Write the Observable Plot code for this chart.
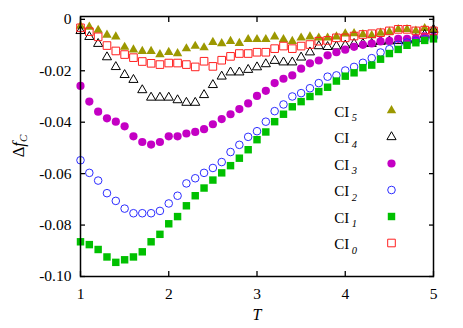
<!DOCTYPE html>
<html><head><meta charset="utf-8">
<script src="https://cdn.jsdelivr.net/npm/d3@7"></script>
<script src="https://cdn.jsdelivr.net/npm/@observablehq/plot@0.6"></script>
<style>body{margin:0;background:#fff}#chart{width:463px;height:328px}</style>
</head><body><div id="chart"></div>
<script>
const T = [1.0,1.1,1.2,1.3,1.4,1.5,1.6,1.7,1.8,1.9,2.0,2.1,2.2,2.3,2.4,2.5,2.6,2.7,2.8,2.9,3.0,3.1,3.2,3.3,3.4,3.5,3.6,3.7,3.8,3.9,4.0,4.1,4.2,4.3,4.4,4.5,4.6,4.7,4.8,4.9,5.0];
const CI5 = [-0.0026,-0.0030,-0.0042,-0.0061,-0.0068,-0.0108,-0.0118,-0.0124,-0.0124,-0.0137,
  -0.0128,-0.0133,-0.0114,-0.0104,-0.0110,-0.0089,-0.0094,-0.0085,-0.0093,-0.0078,
  -0.0078,-0.0078,-0.0068,-0.0078,-0.0085,-0.0072,-0.0068,-0.0072,-0.0072,-0.0068,
  -0.0056,-0.0055,-0.0059,-0.0063,-0.0053,-0.0049,-0.0039,-0.0039,-0.0045,-0.0035,-0.0042];
const CI4 = [-0.0045,-0.0068,-0.0095,-0.0147,-0.0185,-0.0216,-0.0235,-0.0275,-0.0304,-0.0304,
  -0.0304,-0.0314,-0.0324,-0.0324,-0.0294,-0.0255,-0.0222,-0.0206,-0.0206,-0.0196,
  -0.0186,-0.0174,-0.0161,-0.0167,-0.0167,-0.0148,-0.0128,-0.0104,-0.0107,-0.0105,
  -0.0101,-0.0095,-0.0095,-0.0095,-0.0087,-0.0085,-0.0084,-0.0082,-0.0076,-0.0060,-0.0040];
const CI3 = [-0.0259,-0.0320,-0.0359,-0.0385,-0.0398,-0.0416,-0.0455,-0.0477,-0.0487,-0.0477,
  -0.0455,-0.0455,-0.0444,-0.0438,-0.0427,-0.0408,-0.0388,-0.0369,-0.0349,-0.0327,
  -0.0298,-0.0278,-0.0248,-0.0231,-0.0218,-0.0192,-0.0171,-0.0160,-0.0140,-0.0128,
  -0.0118,-0.0107,-0.0099,-0.0094,-0.0086,-0.0084,-0.0076,-0.0076,-0.0074,-0.0066,-0.0068];
const CI2 = [-0.0548,-0.0597,-0.0627,-0.0676,-0.0706,-0.0736,-0.0754,-0.0754,-0.0754,-0.0745,
  -0.0716,-0.0686,-0.0638,-0.0618,-0.0597,-0.0578,-0.0555,-0.0516,-0.0488,-0.0457,
  -0.0435,-0.0398,-0.0357,-0.0331,-0.0300,-0.0287,-0.0268,-0.0248,-0.0223,-0.0218,
  -0.0199,-0.0185,-0.0169,-0.0151,-0.0129,-0.0116,-0.0099,-0.0090,-0.0084,-0.0077,-0.0071];
const CI1 = [-0.0865,-0.0876,-0.0895,-0.0924,-0.0945,-0.0935,-0.0924,-0.0904,-0.0865,-0.0836,
  -0.0795,-0.0767,-0.0725,-0.0686,-0.0656,-0.0625,-0.0597,-0.0569,-0.0540,-0.0507,
  -0.0468,-0.0438,-0.0398,-0.0369,-0.0340,-0.0320,-0.0300,-0.0281,-0.0264,-0.0240,
  -0.0221,-0.0208,-0.0188,-0.0178,-0.0155,-0.0133,-0.0117,-0.0101,-0.0091,-0.0082,-0.0076];
const CI0 = [-0.0033,-0.0048,-0.0068,-0.0102,-0.0123,-0.0137,-0.0149,-0.0164,-0.0171,-0.0176,
  -0.0170,-0.0170,-0.0176,-0.0185,-0.0163,-0.0183,-0.0159,-0.0144,-0.0133,-0.0133,
  -0.0128,-0.0128,-0.0114,-0.0104,-0.0114,-0.0104,-0.0098,-0.0085,-0.0082,-0.0072,
  -0.0072,-0.0065,-0.0059,-0.0056,-0.0052,-0.0045,-0.0039,-0.0039,-0.0045,-0.0042,-0.0045];
const xTicks = [1, 2, 3, 4, 5];
const yTicks = [0, -0.02, -0.04, -0.06, -0.08, -0.10];
const seriesNames = ["5", "4", "3", "2", "1", "0"];

const styles = [
  {values: CI5, symbol: "triangle", fill: "#9c9800", stroke: "none", r: 3.5},
  {values: CI4, symbol: "triangle", fill: "none", stroke: "#000000", r: 3.4},
  {values: CI3, symbol: "circle", fill: "#c400c4", stroke: "none", r: 4.1},
  {values: CI2, symbol: "circle", fill: "none", stroke: "#2d2dff", r: 3.8},
  {values: CI1, symbol: "square", fill: "#00c000", stroke: "none", r: 4.2},
  {values: CI0, symbol: "square", fill: "none", stroke: "#ff2020", r: 4.3}
];

const marks = [];
styles.forEach((s) => {
  const data = T.map((t, i) => ({T: t, v: s.values[i]}));
  marks.push(Plot.dot(data, {x: "T", y: "v", symbol: s.symbol, r: s.r, fill: s.fill, stroke: s.stroke, strokeWidth: 1}));
});
// legend symbols
styles.forEach((s, i) => {
  marks.push(Plot.dot([{}], {frameAnchor: "top-left", dx: 311, dy: 94 + i * 26.5, symbol: s.symbol, r: s.r, fill: s.fill, stroke: s.stroke, strokeWidth: 1}));
});

const plot = Plot.plot({
  width: 463, height: 328,
  marginLeft: 80, marginRight: 30, marginTop: 16, marginBottom: 52,
  style: {fontFamily: "'Liberation Serif', 'DejaVu Serif', serif", fontSize: "15.5px", color: "#000", background: "#fff"},
  x: {domain: [1, 5]},
  y: {domain: [-0.1, 0.0011]},
  marks: [
    ...marks,
    Plot.axisX({anchor: "bottom", ticks: xTicks, tickSize: 0, tickPadding: 11, tickFormat: d => String(d), label: null}),
    Plot.axisY({anchor: "left", ticks: yTicks, tickSize: 0, tickPadding: 9, tickFormat: d => d === 0 ? "0" : d.toFixed(2), label: null}),
    Plot.axisX({anchor: "bottom", ticks: xTicks, tickSize: -5, strokeWidth: 1.3, tickFormat: () => "", label: null}),
    Plot.axisX({anchor: "top", ticks: xTicks, tickSize: -5, strokeWidth: 1.3, tickFormat: () => "", label: null}),
    Plot.axisY({anchor: "left", ticks: yTicks, tickSize: -5, strokeWidth: 1.3, tickFormat: () => "", label: null}),
    Plot.axisY({anchor: "right", ticks: yTicks, tickSize: -5, strokeWidth: 1.3, tickFormat: () => "", label: null}),
    Plot.frame({stroke: "#000", strokeWidth: 1.5})
  ]
});
document.getElementById("chart").appendChild(plot);

const svg = d3.select(plot);
const font = "'Liberation Serif', 'DejaVu Serif', serif";
// legend labels
seriesNames.forEach((n, i) => {
  const t = svg.append("text").attr("x", 345.5).attr("y", 116.7 + i * 26.5)
    .attr("font-family", font).attr("font-size", 15).attr("fill", "#000");
  t.append("tspan").text("CI");
  t.append("tspan").attr("dx", 2.5).attr("dy", 4.5).attr("font-size", 10.5).attr("font-style", "italic").text(n);
});
// x label
svg.append("text").attr("x", 257).attr("y", 320).attr("text-anchor", "middle")
  .attr("font-family", font).attr("font-size", 16).attr("font-style", "italic").text("T");
// y label
const yl = svg.append("text").attr("transform", "translate(23.5,146) rotate(-90)").attr("text-anchor", "middle")
  .attr("font-family", font).attr("font-size", 16.5).attr("fill", "#000");
yl.append("tspan").text("Δ");
yl.append("tspan").attr("font-style", "italic").text("f");
yl.append("tspan").attr("font-style", "italic").attr("font-size", 11).attr("dy", 3).text("C");
</script>
</body></html>
